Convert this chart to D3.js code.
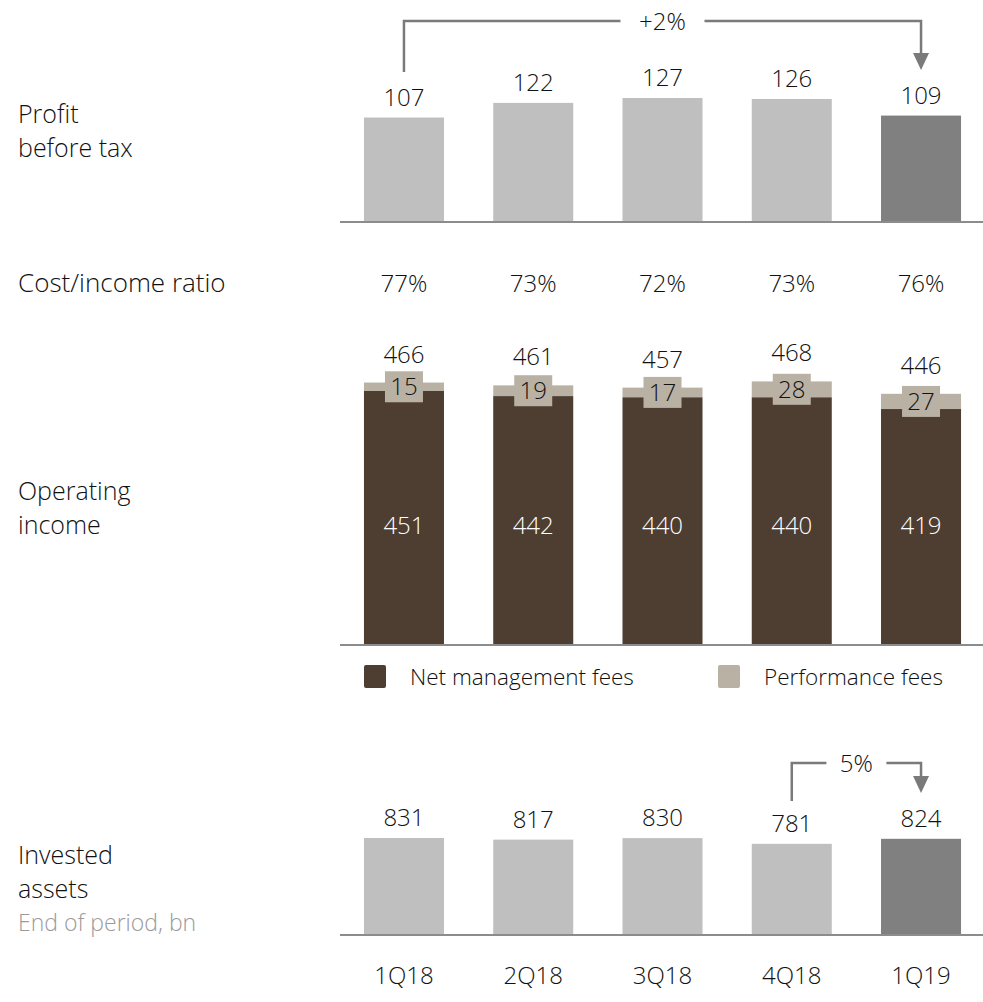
<!DOCTYPE html>
<html>
<head>
<meta charset="utf-8">
<script src="https://cdn.jsdelivr.net/npm/d3@7"></script>
<style>
  html, body { margin: 0; padding: 0; background: #fff; }
  svg { display: block; }
  svg text { font-family: "Open Sans", "Noto Sans", sans-serif; font-weight: 300; }
</style>
</head>
<body>
<svg id="chart" width="983" height="1002"></svg>
<script>
// ---- Data ----
const categories = ["1Q18", "2Q18", "3Q18", "4Q18", "1Q19"];
const profitBeforeTax = [107, 122, 127, 126, 109];
const costIncomeRatio = ["77%", "73%", "72%", "73%", "76%"];
const netManagementFees = [451, 442, 440, 440, 419];
const performanceFees = [15, 19, 17, 28, 27];
const operatingIncomeTotal = [466, 461, 457, 468, 446];
const investedAssets = [831, 817, 830, 781, 824];
const profitChange = { from: "1Q18", to: "1Q19", label: "+2%" };
const assetsChange = { from: "4Q18", to: "1Q19", label: "5%" };
const legendItems = ["Net management fees", "Performance fees"];

// ---- Styles ----
const C = {
  grey: "#bfbfbf", greyDark: "#808080", brown: "#4e3d31", tan: "#b9b1a3",
  axis: "#8c8c8c", text: "#111111", sub: "#9a9a9a", arrow: "#7a7a7a"
};
const svg = d3.select("#chart");
const x = d3.scaleBand().domain(categories).range([339.4, 985.6]).paddingInner(0.381).paddingOuter(0.19);
const cx = c => x(c) + x.bandwidth() / 2;
const FS = 24;

function axisLine(y) {
  svg.append("line").attr("x1", 340).attr("x2", 983).attr("y1", y).attr("y2", y)
    .attr("stroke", C.axis).attr("stroke-width", 2);
}
function leftLabel(lines, y0) {
  lines.forEach(l => {
    svg.append("text").attr("x", 18).attr("y", y0 + l.dy)
      .attr("font-size", l.size || 25).attr("fill", l.color || C.text).text(l.t);
  });
}
function bracket(ch, yTopFrom, yLine, yArrowTip, gapHalf) {
  const x1 = cx(ch.from), x2 = cx(ch.to), xm = (x1 + x2) / 2;
  const g = svg.append("g").attr("stroke", C.arrow).attr("stroke-width", 2.5).attr("fill", "none");
  g.append("path").attr("d", `M${x1},${yTopFrom} V${yLine} H${xm - gapHalf}`);
  g.append("path").attr("d", `M${xm + gapHalf},${yLine} H${x2} V${yArrowTip - 14}`);
  svg.append("path").attr("d", `M${x2 - 8},${yArrowTip - 17} L${x2 + 8},${yArrowTip - 17} L${x2},${yArrowTip} Z`).attr("fill", C.arrow);
  svg.append("text").attr("x", xm).attr("y", yLine + 9).attr("text-anchor", "middle")
    .attr("font-size", FS).attr("fill", C.text).text(ch.label);
}

// ---- Panel 1: Profit before tax ----
const base1 = 222;
const y1 = d3.scaleLinear().domain([0, 127]).range([base1, 98]);
svg.append("g").selectAll("rect").data(categories).join("rect")
  .attr("x", d => x(d)).attr("width", x.bandwidth())
  .attr("y", (d, i) => y1(profitBeforeTax[i])).attr("height", (d, i) => base1 - y1(profitBeforeTax[i]))
  .attr("fill", (d, i) => i === categories.length - 1 ? C.greyDark : C.grey);
svg.append("g").selectAll("text").data(categories).join("text")
  .attr("x", d => cx(d)).attr("y", (d, i) => y1(profitBeforeTax[i]) - 12)
  .attr("text-anchor", "middle").attr("font-size", FS).attr("fill", C.text)
  .text((d, i) => profitBeforeTax[i]);
axisLine(base1);
bracket(profitChange, 72, 21, 70, 42);
leftLabel([{ t: "Profit", dy: 0 }, { t: "before tax", dy: 34 }], 123);

// ---- Cost/income ratio ----
leftLabel([{ t: "Cost/income ratio", dy: 0, size: 26 }], 292);
svg.append("g").selectAll("text").data(categories).join("text")
  .attr("x", d => cx(d)).attr("y", 292).attr("text-anchor", "middle")
  .attr("font-size", FS).attr("fill", C.text).text((d, i) => costIncomeRatio[i]);

// ---- Panel 3: Operating income ----
const base3 = 645;
const y3 = d3.scaleLinear().domain([0, 451]).range([base3, 391]);
const g3 = svg.append("g");
g3.selectAll("rect.nmf").data(categories).join("rect").attr("class", "nmf")
  .attr("x", d => x(d)).attr("width", x.bandwidth())
  .attr("y", (d, i) => y3(netManagementFees[i])).attr("height", (d, i) => base3 - y3(netManagementFees[i]))
  .attr("fill", C.brown);
g3.selectAll("rect.pf").data(categories).join("rect").attr("class", "pf")
  .attr("x", d => x(d)).attr("width", x.bandwidth())
  .attr("y", (d, i) => y3(netManagementFees[i] + performanceFees[i]))
  .attr("height", (d, i) => y3(netManagementFees[i]) - y3(netManagementFees[i] + performanceFees[i]))
  .attr("fill", C.tan);
categories.forEach((d, i) => {
  const mid = (y3(netManagementFees[i]) + y3(netManagementFees[i] + performanceFees[i])) / 2;
  g3.append("rect").attr("x", cx(d) - 19).attr("y", mid - 15.5).attr("width", 38).attr("height", 31).attr("fill", C.tan);
  g3.append("text").attr("x", cx(d)).attr("y", mid + 8.5).attr("text-anchor", "middle")
    .attr("font-size", FS).attr("fill", C.text).text(performanceFees[i]);
  g3.append("text").attr("x", cx(d)).attr("y", y3(operatingIncomeTotal[i]) - 20).attr("text-anchor", "middle")
    .attr("font-size", FS).attr("fill", C.text).text(operatingIncomeTotal[i]);
  g3.append("text").attr("x", cx(d)).attr("y", 534).attr("text-anchor", "middle")
    .attr("font-size", FS).attr("fill", "#ffffff").text(netManagementFees[i]);
});
axisLine(base3);
leftLabel([{ t: "Operating", dy: 0 }, { t: "income", dy: 34 }], 500);

// legend
const legendColors = [C.brown, C.tan];
const legendX = [364, 718];
legendItems.forEach((t, i) => {
  svg.append("rect").attr("x", legendX[i]).attr("y", 665).attr("width", 22).attr("height", 23).attr("rx", 2).attr("fill", legendColors[i]);
  svg.append("text").attr("x", legendX[i] + 46).attr("y", 685).attr("font-size", 22.5).attr("fill", C.text).text(t);
});

// ---- Panel 4: Invested assets ----
const base4 = 935;
const y4 = d3.scaleLinear().domain([0, 831]).range([base4, 838]);
svg.append("g").selectAll("rect").data(categories).join("rect")
  .attr("x", d => x(d)).attr("width", x.bandwidth())
  .attr("y", (d, i) => y4(investedAssets[i])).attr("height", (d, i) => base4 - y4(investedAssets[i]))
  .attr("fill", (d, i) => i === categories.length - 1 ? C.greyDark : C.grey);
svg.append("g").selectAll("text").data(categories).join("text")
  .attr("x", d => cx(d)).attr("y", (d, i) => y4(investedAssets[i]) - 12)
  .attr("text-anchor", "middle").attr("font-size", FS).attr("fill", C.text)
  .text((d, i) => investedAssets[i]);
axisLine(base4);
bracket(assetsChange, 801, 763, 793, 30);
leftLabel([{ t: "Invested", dy: 0 }, { t: "assets", dy: 34 },
  { t: "End of period, bn", dy: 66.5, size: 23, color: C.sub }], 864);

// x axis labels
const xAxis = d3.axisBottom(x).tickSize(0).tickPadding(0);
const gx = svg.append("g").attr("transform", `translate(0,${base4})`).call(xAxis)
  .attr("font-family", null).attr("font-size", null);
gx.select(".domain").remove();
gx.selectAll("text").attr("font-size", 24).attr("fill", C.text)
  .attr("dy", 0).attr("y", 49);
</script>
</body>
</html>
